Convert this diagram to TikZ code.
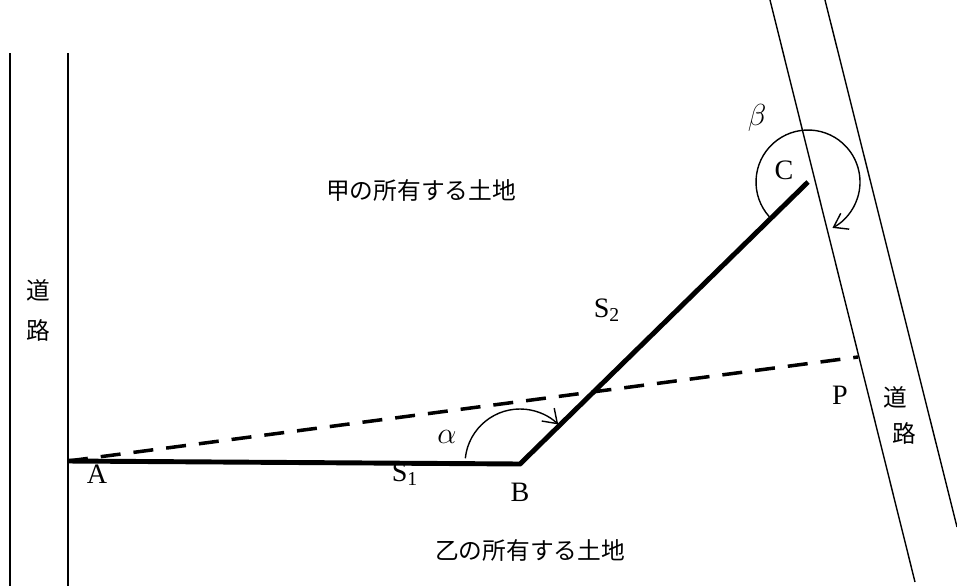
\documentclass[tikz,border=0pt]{standalone}
\usepackage{fontspec}
\setmainfont{Liberation Serif}
\newfontfamily\jpfont{Noto Sans CJK JP}
\usetikzlibrary{arrows.meta, positioning}

\begin{document}
\begin{tikzpicture}[x=0.2mm, y=0.2mm, font=\fontsize{16}{18}\selectfont,
  road/.style={line width=0.8pt},
  wall/.style={line width=2.8pt, line join=miter},
  chord/.style={line width=2pt, dash pattern=on 4mm off 2.6mm},
  angarc/.style={line width=0.8pt, -{Straight Barb[length=2.6mm, width=3.6mm]}},
  jp/.style={font=\jpfont\fontsize{13.5}{15}\selectfont}]
\useasboundingbox (0,0) rectangle (957,586);
% roads
\draw[road] (10,533) -- (10,0);
\draw[road] (68,533) -- (68,0);
\draw[road] (770,586) -- (915,4);
\draw[road] (825,586) -- (957,59);
% points
\coordinate (A) at (68,125);
\coordinate (B) at (520,122);
\coordinate (C) at (808,404);
\coordinate (P) at (858,229);
\draw[wall] (A) -- (B) -- (C);
\draw[chord] (A) -- (P);
% angles
\draw[angarc] (B) ++(174:55) arc[start angle=174, end angle=46, radius=55];
\draw[angarc] (C) ++(222:52) arc[start angle=222, end angle=-62, radius=52];
% labels
\node (labA) at (97,112) {A};
\node (labB) at (520,94) {B};
\node (labC) at (784,416) {C};
\node (labP) at (840,191) {P};
\node (labS1) at (405,112) {S\textsubscript{1}};
\node (labS2) at (607,276) {S\textsubscript{2}};
\node (alpha) at (447,149) {$\alpha$};
\node (beta) at (757,468) {$\beta$};
\node[jp] (kou) at (421,396) {甲の所有する土地};
\node[jp] (otsu) at (530,36) {乙の所有する土地};
\node[jp] (roadL1) at (38,296) {道};
\node[jp] (roadL2) at (38,256) {路};
\node[jp] (roadR1) at (895,189) {道};
\node[jp] (roadR2) at (904,153) {路};
\end{tikzpicture}
\end{document}
